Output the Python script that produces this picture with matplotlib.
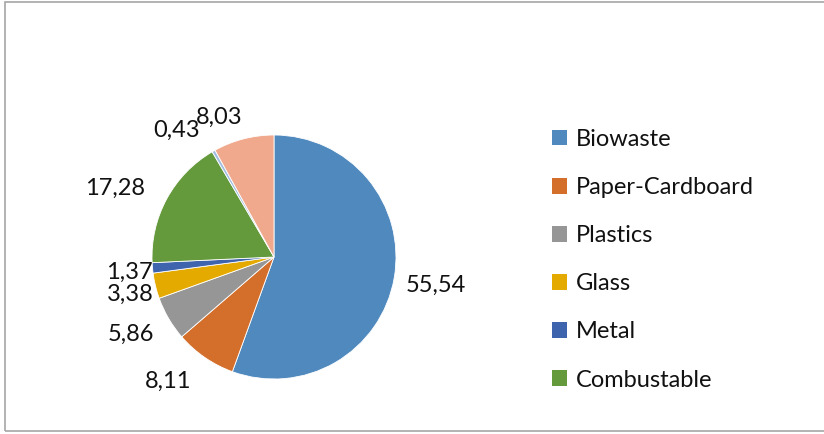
import numpy as np
import matplotlib.pyplot as plt
from matplotlib.patches import Rectangle, Patch

categories = ['Biowaste', 'Paper-Cardboard', 'Plastics', 'Glass', 'Metal',
              'Combustable', 'Textiles', 'Other']
values = [55.54, 8.11, 5.86, 3.38, 1.37, 17.28, 0.43, 8.03]
labels = ['55,54', '8,11', '5,86', '3,38', '1,37', '17,28', '0,43', '8,03']
colors = ['#4f89be', '#d46f2b', '#969696', '#e4aa00', '#3f64ae',
          '#64993c', '#a2bfe2', '#f0a98c']

# label placement tweaks (distance factor, angle nudge in deg)
lbl_dist = [1.35, 1.34, 1.33, 1.22, 1.19, 1.42, 1.31, 1.23]
lbl_nudge = [0, -6, -2, 1, 1, 5, 8, 7]

plt.rcParams['font.family'] = ['Lato', 'DejaVu Sans']

fig = plt.figure(figsize=(8.24, 4.34), dpi=100)
ax = fig.add_axes([0, 0, 1, 1])
ax.set_xlim(0, 824)
ax.set_ylim(0, 434)
ax.set_aspect('equal')
ax.axis('off')

cx, cy, r = 274, 177, 122
wedges, _ = ax.pie(values, colors=colors, startangle=90, counterclock=False,
                   center=(cx, cy), radius=r,
                   wedgeprops=dict(linewidth=0.6, edgecolor='white'))
ax.set_xlim(0, 824)
ax.set_ylim(0, 434)

for w, lab, d, nd in zip(wedges, labels, lbl_dist, lbl_nudge):
    ang = np.deg2rad((w.theta1 + w.theta2) / 2 + nd)
    ax.text(cx + r * d * np.cos(ang), cy + r * d * np.sin(ang), lab,
            ha='center', va='center', fontsize=17, color='#111111')

# chart border
ax.add_patch(Rectangle((5.5, 3), 830, 429.5, fill=False, edgecolor='#a6a6a6',
                       linewidth=1.2, clip_on=False))

handles = [Patch(facecolor=c, edgecolor='none') for c in colors[:6]]
fig.legend(handles, categories[:6], loc='upper left',
           bbox_to_anchor=(540 / 824, 1 - 117 / 434), frameon=False,
           fontsize=17, handlelength=0.65, handleheight=0.65,
           handletextpad=0.35, labelspacing=1.15, borderpad=0,
           labelcolor='#111111')

fig.savefig('out.png', dpi=100)
